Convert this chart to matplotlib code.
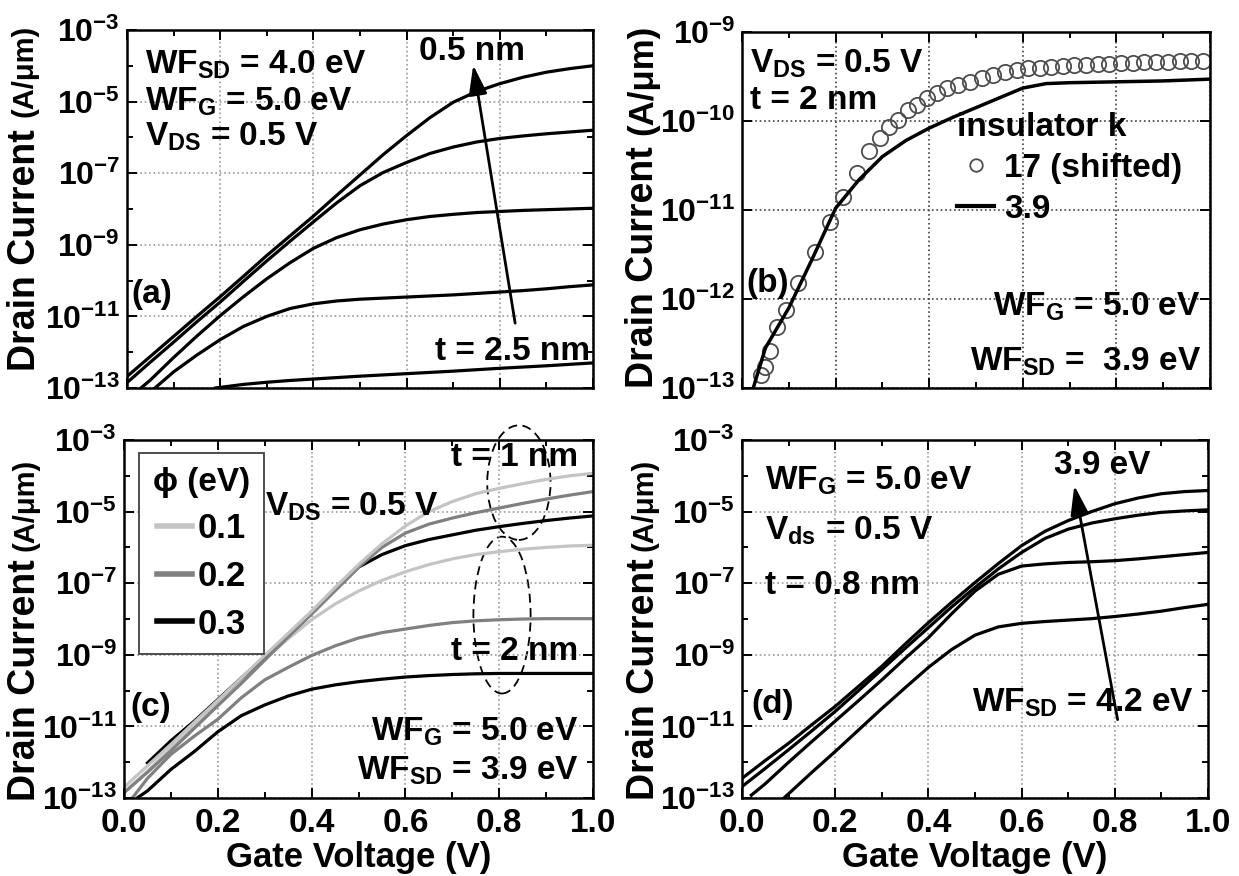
import matplotlib.pyplot as plt
import numpy as np
from matplotlib.patches import Ellipse
from matplotlib.lines import Line2D
from matplotlib.ticker import FixedLocator, FuncFormatter, MultipleLocator, NullFormatter

plt.rcParams['font.family'] = ['Liberation Sans', 'DejaVu Sans']
plt.rcParams['font.weight'] = 'bold'
plt.rcParams['mathtext.fontset'] = 'custom'
plt.rcParams['mathtext.rm'] = 'Liberation Sans:bold'
plt.rcParams['mathtext.bf'] = 'Liberation Sans:bold'
plt.rcParams['mathtext.it'] = 'Liberation Sans:bold'
plt.rcParams['mathtext.default'] = 'bf'

# gate voltage samples (V)
vg = [0.0, 0.05, 0.1, 0.15, 0.2, 0.25, 0.3, 0.35, 0.4, 0.45, 0.5,
      0.55, 0.6, 0.65, 0.7, 0.75, 0.8, 0.85, 0.9, 0.95, 1.0]

# (a) log10 drain current vs insulator thickness
a_t05 = [-12.68, -12.12, -11.56, -11.0, -10.45, -9.88, -9.3, -8.75, -8.2, -7.62, -7.05,
         -6.48, -5.95, -5.45, -5.02, -4.72, -4.5, -4.32, -4.18, -4.08, -4.0]
a_t10 = [-12.85, -12.28, -11.72, -11.15, -10.6, -10.02, -9.45, -8.9, -8.36, -7.83, -7.35,
         -6.98, -6.7, -6.45, -6.27, -6.13, -6.03, -5.96, -5.9, -5.85, -5.8]
a_t15_v = [0.03] + vg[1:]
a_t15 = [-13.0, -12.78, -12.15, -11.55, -10.98, -10.45, -9.95, -9.5, -9.1, -8.8, -8.58,
         -8.42, -8.3, -8.21, -8.15, -8.1, -8.07, -8.04, -8.02, -8.0, -7.98]
a_t20_v = [0.06] + vg[2:]
a_t20 = [-13.0, -12.55, -12.08, -11.65, -11.28, -11.0, -10.78, -10.65, -10.57, -10.52,
         -10.49, -10.46, -10.43, -10.4, -10.36, -10.32, -10.28, -10.23, -10.17, -10.12]
a_t25_v = [0.19, 0.25, 0.3, 0.35, 0.4, 0.5, 0.6, 0.7, 0.8, 0.9, 1.0]
a_t25 = [-13.0, -12.9, -12.84, -12.79, -12.75, -12.67, -12.6, -12.53, -12.45, -12.38, -12.3]

# (b) insulator k comparison
b_k39_v = [0.024, 0.05, 0.1, 0.15, 0.2, 0.25, 0.3, 0.35, 0.4, 0.45, 0.5, 0.55, 0.6,
           0.65, 0.7, 0.8, 0.9, 1.0]
b_k39 = [-13.0, -12.55, -12.1, -11.55, -10.98, -10.66, -10.4, -10.22, -10.08, -9.96,
         -9.85, -9.74, -9.63, -9.58, -9.57, -9.56, -9.55, -9.53]
b_k17_v = [0.04, 0.049, 0.06, 0.074, 0.095, 0.12, 0.156, 0.188, 0.215, 0.245,
           0.271, 0.295, 0.313, 0.333, 0.354, 0.373, 0.395, 0.416, 0.437, 0.462,
           0.487, 0.512, 0.537, 0.562, 0.587, 0.611, 0.636, 0.66, 0.685, 0.71,
           0.735, 0.76, 0.785, 0.81, 0.835, 0.86, 0.885, 0.91, 0.935, 0.96, 0.985]
b_k17 = [-12.85, -12.76, -12.59, -12.31, -12.12, -11.82, -11.47, -11.13, -10.85, -10.58,
         -10.34, -10.19, -10.07, -9.99, -9.88, -9.82, -9.74, -9.69, -9.63, -9.6,
         -9.56, -9.52, -9.48, -9.45, -9.43, -9.41, -9.40, -9.39, -9.38, -9.37,
         -9.37, -9.36, -9.36, -9.35, -9.35, -9.34, -9.34, -9.34, -9.33, -9.33, -9.33]

# (c) barrier height phi, t = 1 nm and t = 2 nm
c_t1_p1 = [-12.7, -12.1, -11.5, -10.88, -10.27, -9.65, -9.02, -8.4, -7.78, -7.12, -6.48,
           -5.9, -5.4, -5.0, -4.72, -4.5, -4.35, -4.22, -4.1, -4.0, -3.93]
c_t1_p2 = [-12.85, -12.28, -11.68, -11.05, -10.42, -9.8, -9.15, -8.5, -7.86, -7.2, -6.55,
           -6.0, -5.6, -5.35, -5.18, -5.03, -4.9, -4.77, -4.65, -4.54, -4.44]
c_t1_p3_v = vg[1:]
c_t1_p3 = [-12.02, -11.4, -10.85, -10.25, -9.65, -9.05, -8.45, -7.85, -7.2, -6.55,
           -6.2, -5.95, -5.78, -5.65, -5.52, -5.42, -5.33, -5.25, -5.18, -5.12]
c_t2_p1 = [-12.85, -12.25, -11.62, -11.0, -10.38, -9.75, -9.12, -8.55, -8.02, -7.58, -7.22,
           -6.92, -6.68, -6.48, -6.32, -6.2, -6.12, -6.05, -6.0, -5.96, -5.94]
c_t2_p2_v = [0.02] + vg[1:]
c_t2_p2 = [-12.96, -12.45, -11.78, -11.27, -10.8, -10.2, -9.7, -9.35, -9.02, -8.75, -8.53,
           -8.38, -8.28, -8.18, -8.1, -8.05, -8.02, -8.0, -7.99, -7.99, -7.99]
c_t2_p3_v = [0.03] + vg[1:]
c_t2_p3 = [-12.98, -12.8, -12.2, -11.7, -11.15, -10.7, -10.4, -10.15, -9.96, -9.84, -9.75,
           -9.68, -9.62, -9.58, -9.55, -9.53, -9.52, -9.52, -9.52, -9.52, -9.52]

# (d) source/drain work function
d_wf39 = [-12.45, -11.95, -11.47, -10.95, -10.44, -9.88, -9.32, -8.7, -8.1, -7.53, -6.98,
          -6.45, -5.95, -5.55, -5.25, -5.0, -4.78, -4.62, -4.5, -4.44, -4.41]
d_wf40 = [-12.68, -12.17, -11.65, -11.12, -10.58, -10.0, -9.41, -8.82, -8.24, -7.66, -7.12,
          -6.6, -6.14, -5.75, -5.49, -5.32, -5.2, -5.1, -5.02, -4.98, -4.95]
d_wf41_v = [0.02] + vg[1:]
d_wf41 = [-12.92, -12.6, -12.0, -11.42, -10.85, -10.28, -9.7, -9.1, -8.52, -7.85, -7.22,
          -6.75, -6.52, -6.46, -6.42, -6.4, -6.37, -6.32, -6.26, -6.2, -6.14]
d_wf42_v = [0.09] + vg[2:]
d_wf42 = [-13.0, -12.88, -12.28, -11.7, -11.1, -10.5, -9.92, -9.35, -8.85, -8.45,
          -8.22, -8.12, -8.07, -8.03, -7.99, -7.93, -7.86, -7.78, -7.68, -7.59]


def amps(logs):
    return [10.0 ** v for v in logs]


def style_axes(ax, ymin, ymax, step, grid_color, xlabels):
    ax.set_yscale('log')
    ax.set_xlim(0, 1)
    ax.set_ylim(10.0 ** ymin, 10.0 ** ymax)
    majors = [10.0 ** e for e in range(ymin, ymax + 1, step)]
    minors = [10.0 ** e for e in range(ymin, ymax + 1) if (e - ymin) % step]
    ax.yaxis.set_major_locator(FixedLocator(majors))
    ax.yaxis.set_minor_locator(FixedLocator(minors))
    ax.yaxis.set_major_formatter(
        FuncFormatter(lambda v, p: r'$\mathbf{10^{%d}}$' % round(np.log10(v))))
    ax.yaxis.set_minor_formatter(NullFormatter())
    ax.xaxis.set_major_locator(MultipleLocator(0.2))
    ax.xaxis.set_minor_locator(MultipleLocator(0.1))
    ax.xaxis.set_major_formatter(FuncFormatter(lambda v, p: '%.1f' % v))
    ax.tick_params(which='both', direction='in', top=True, right=True, width=1.4)
    ax.tick_params(which='major', length=7, labelsize=23, pad=5)
    ax.tick_params(axis='x', which='major', labelsize=24, pad=7.5)
    ax.tick_params(which='minor', length=4)
    ax.tick_params(labelbottom=xlabels)
    ax.grid(True, which='major', ls=':', color=grid_color, lw=1.2)
    for s in ax.spines.values():
        s.set_linewidth(1.8)


def drain_label(ax, x, y_main, y_unit, unit_size):
    ax.text(x, y_main, 'Drain Current', rotation=90, transform=ax.transAxes,
            ha='center', va='center', fontsize=27)
    ax.text(x, y_unit, '(A/\u03bcm)', rotation=90, transform=ax.transAxes,
            ha='center', va='center', fontsize=unit_size)


def gate_label(ax):
    ax.text(0.5, -0.165, 'Gate Voltage (V)', transform=ax.transAxes,
            ha='center', va='center', fontsize=25)


fig = plt.figure(figsize=(12.39, 8.76), dpi=100)
ax_a = fig.add_axes([0.1025, 0.5571, 0.3761, 0.4087])
ax_b = fig.add_axes([0.5989, 0.5571, 0.3777, 0.4064])
ax_c = fig.add_axes([0.1001, 0.0890, 0.3785, 0.4087])
ax_d = fig.add_axes([0.5989, 0.0890, 0.3761, 0.4087])

arrow = dict(arrowstyle='-|>,head_length=0.9,head_width=0.28', lw=2, color='k',
             shrinkA=0, shrinkB=0, mutation_scale=20)
fs = 24

# ---- (a)
style_axes(ax_a, -13, -3, 2, '0.6', False)
for v, y in [(vg, a_t05), (vg, a_t10), (a_t15_v, a_t15), (a_t20_v, a_t20), (a_t25_v, a_t25)]:
    ax_a.plot(v, amps(y), color='k', lw=2.3)
ax_a.annotate('', xy=(0.743, 10 ** -3.98), xytext=(0.833, 10 ** -11.19), arrowprops=arrow)
ax_a.text(0.038, 10 ** -3.98, r'WF$_{\rm SD}$ = 4.0 eV', fontsize=fs, va='center')
ax_a.text(0.038, 10 ** -5.0, r'WF$_{\rm G}$ = 5.0 eV', fontsize=fs, va='center')
ax_a.text(0.038, 10 ** -5.98, r'V$_{\rm DS}$ = 0.5 V', fontsize=fs, va='center')
ax_a.text(0.74, 10 ** -3.6, '0.5 nm', fontsize=fs, ha='center', va='center')
ax_a.text(0.994, 10 ** -11.98, 't = 2.5 nm', fontsize=fs, ha='right', va='center')
ax_a.text(0.01, 10 ** -10.4, '(a)', fontsize=fs, va='center')
drain_label(ax_a, -0.219, 0.385, 0.885, 21)

# ---- (b)
style_axes(ax_b, -13, -9, 1, '0.25', False)
ax_b.yaxis.set_minor_locator(FixedLocator([]))
circ, = ax_b.plot(b_k17_v, amps(b_k17), ls='none', marker='o', ms=11,
                  mfc='none', mec='0.3', mew=1.3)
solid, = ax_b.plot(b_k39_v, amps(b_k39), color='k', lw=2.5)
leg_b = ax_b.legend([Line2D([], [], ls='none', marker='o', ms=9, mfc='none', mec='0.3', mew=1.3),
                     Line2D([], [], color='k', lw=3)], ['17 (shifted)', '3.9'],
                    title='insulator k', loc='upper left', bbox_to_anchor=(0.46, 0.775),
                    frameon=False, alignment='left', fontsize=fs, title_fontsize=fs,
                    handlelength=1.1, handletextpad=0.3, labelspacing=0.3,
                    borderpad=0, borderaxespad=0, numpoints=1)
ax_b.text(0.017, 10 ** -9.36, r'V$_{\rm DS}$ = 0.5 V', fontsize=fs, va='center')
ax_b.text(0.017, 10 ** -9.77, 't = 2 nm', fontsize=fs, va='center')
ax_b.text(0.98, 10 ** -12.09, r'WF$_{\rm G}$ = 5.0 eV', fontsize=fs, ha='right', va='center')
ax_b.text(0.98, 10 ** -12.71, r'WF$_{\rm SD}$ =  3.9 eV', fontsize=fs, ha='right', va='center')
ax_b.text(0.01, 10 ** -11.83, '(b)', fontsize=fs, va='center')
drain_label(ax_b, -0.212, 0.34, 0.865, 25)

# ---- (c)
style_axes(ax_c, -13, -3, 2, '0.6', True)
light, mid = '#c4c4c4', '#808080'
ax_c.plot(c_t2_p3_v, amps(c_t2_p3), color='k', lw=2.3)
ax_c.plot(c_t2_p2_v, amps(c_t2_p2), color=mid, lw=2.3)
ax_c.plot(vg, amps(c_t2_p1), color=light, lw=2.3)
l3, = ax_c.plot(c_t1_p3_v, amps(c_t1_p3), color='k', lw=2.3)
l2, = ax_c.plot(vg, amps(c_t1_p2), color=mid, lw=2.3)
l1, = ax_c.plot(vg, amps(c_t1_p1), color=light, lw=2.3)
leg_c = ax_c.legend([Line2D([], [], color=c, lw=4) for c in (light, mid, 'k')],
                    ['0.1', '0.2', '0.3'], title='\u03d5 (eV)', loc='upper left',
                    bbox_to_anchor=(0.032, 0.964), fontsize=25, title_fontsize=24,
                    fancybox=False, edgecolor='0.25', framealpha=1, handlelength=1.0,
                    handletextpad=0.15, labelspacing=0.42, borderpad=0.4,
                    borderaxespad=0)
leg_c.get_frame().set_linewidth(1.3)
ell_kw = dict(transform=ax_c.transAxes, fill=False, ls=(0, (5, 3)), lw=1.3,
              ec='k', clip_on=False)
ax_c.add_patch(Ellipse((0.842, 0.881), 0.135, 0.32, **ell_kw))
ax_c.add_patch(Ellipse((0.806, 0.511), 0.122, 0.438, **ell_kw))
ax_c.text(0.3, 10 ** -4.86, r'V$_{\rm DS}$ = 0.5 V', fontsize=fs, va='center')
ax_c.text(0.969, 10 ** -3.5, 't = 1 nm', fontsize=fs, ha='right', va='center')
ax_c.text(0.969, 10 ** -8.92, 't = 2 nm', fontsize=fs, ha='right', va='center')
ax_c.text(0.969, 10 ** -11.15, r'WF$_{\rm G}$ = 5.0 eV', fontsize=fs, ha='right', va='center')
ax_c.text(0.969, 10 ** -12.23, r'WF$_{\rm SD}$ = 3.9 eV', fontsize=fs, ha='right', va='center')
ax_c.text(0.014, 10 ** -10.46, '(c)', fontsize=fs, va='center')
drain_label(ax_c, -0.211, 0.33, 0.82, 21)
gate_label(ax_c)

# ---- (d)
style_axes(ax_d, -13, -3, 2, '0.6', True)
for v, y in [(vg, d_wf39), (vg, d_wf40), (d_wf41_v, d_wf41), (d_wf42_v, d_wf42)]:
    ax_d.plot(v, amps(y), color='k', lw=2.3)
ax_d.annotate('', xy=(0.713, 10 ** -4.27), xytext=(0.806, 10 ** -10.81), arrowprops=arrow)
ax_d.text(0.05, 10 ** -4.13, r'WF$_{\rm G}$ = 5.0 eV', fontsize=fs, va='center')
ax_d.text(0.05, 10 ** -5.53, r'V$_{\rm ds}$ = 0.5 V', fontsize=fs, va='center')
ax_d.text(0.05, 10 ** -7.07, 't = 0.8 nm', fontsize=fs, va='center')
ax_d.text(0.772, 10 ** -3.7, '3.9 eV', fontsize=fs, ha='center', va='center')
ax_d.text(0.97, 10 ** -10.35, r'WF$_{\rm SD}$ = 4.2 eV', fontsize=fs, ha='right', va='center')
ax_d.text(0.021, 10 ** -10.4, '(d)', fontsize=fs, va='center')
drain_label(ax_d, -0.21, 0.333, 0.82, 21)
gate_label(ax_d)

fig.savefig('out.png', dpi=100, facecolor='white')
